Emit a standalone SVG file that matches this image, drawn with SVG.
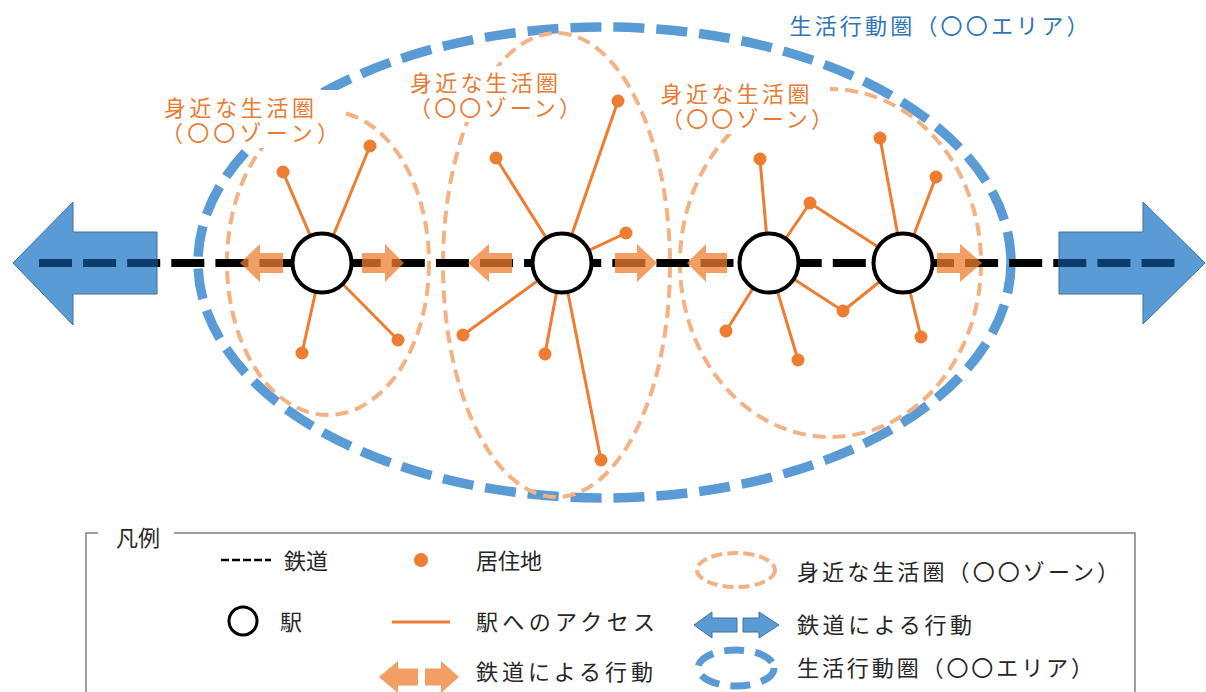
<svg xmlns="http://www.w3.org/2000/svg" width="1206" height="692" viewBox="0 0 1206 692">
<defs>
<style>
.zone{fill:none;stroke:#F4B183;stroke-width:4;stroke-dasharray:13 7}
.area{fill:none;stroke:#5B9BD5;stroke-width:9.5;stroke-dasharray:31 12}
.rail{fill:none;stroke:#000;stroke-width:8;stroke-dasharray:33 11.1}
.acc{stroke:#ED7D31;stroke-width:3;fill:none}
.dot{fill:#ED7D31}
.sta{fill:#fff;stroke:#000;stroke-width:4}
.oarr{fill:#ED7D31;fill-opacity:0.75}
.barr{fill:#5B9BD5;stroke:#41719C;stroke-width:1}
.lbl{font-family:"Noto Sans CJK JP","Noto Sans CJK SC",sans-serif;font-size:22px;fill:#E97B33;text-anchor:middle}
.ttl{font-family:"Noto Sans CJK JP","Noto Sans CJK SC",sans-serif;font-size:22px;fill:#2E75B6;text-anchor:middle}
.lg{font-family:"Noto Sans CJK JP","Noto Sans CJK SC",sans-serif;font-size:22px;fill:#262626}
</style>
<clipPath id="bclip">
<polygon points="13,263 73,202 73,232 157,232 157,294 73,294 73,325"/>
<polygon points="1059,232 1143,232 1143,202 1205,263 1143,324 1143,294 1059,294"/>
</clipPath>
</defs>
<rect width="1206" height="692" fill="#fff"/>

<g id="area-ellipse">
<ellipse class="area" cx="604.5" cy="262.5" rx="406.5" ry="235.5"/>
</g>
<g id="zones">
<ellipse id="zone-1" class="zone" cx="328" cy="263" rx="101" ry="152"/>
<ellipse id="zone-2" class="zone" cx="556.5" cy="265" rx="113.5" ry="232"/>
<ellipse id="zone-3" class="zone" cx="830.5" cy="263" rx="150.5" ry="174"/>
</g>

<g id="railway">
<line class="rail" x1="39" y1="263" x2="1176" y2="263"/>
</g>
<g id="rail-arrows">
<polygon class="barr" points="13,263 73,202 73,232 157,232 157,294 73,294 73,325"/>
<polygon class="barr" points="1059,232 1143,232 1143,202 1205,263 1143,324 1143,294 1059,294"/>
<line x1="39" y1="263" x2="1176" y2="263" clip-path="url(#bclip)" stroke="#0B3C6B" stroke-width="8" stroke-dasharray="33 11.1"/>
</g>

<g id="connectors">
<line class="acc" x1="283" y1="172" x2="322" y2="263"/>
<line class="acc" x1="370" y1="146" x2="322" y2="263"/>
<line class="acc" x1="302" y1="353" x2="322" y2="263"/>
<line class="acc" x1="398" y1="340" x2="322" y2="263"/>
<line class="acc" x1="618" y1="101" x2="562" y2="263"/>
<line class="acc" x1="496" y1="158" x2="562" y2="263"/>
<line class="acc" x1="626" y1="233" x2="562" y2="263"/>
<line class="acc" x1="463" y1="335" x2="562" y2="263"/>
<line class="acc" x1="545" y1="354" x2="562" y2="263"/>
<line class="acc" x1="601" y1="460" x2="562" y2="263"/>
<line class="acc" x1="760" y1="159" x2="769" y2="263"/>
<line class="acc" x1="810" y1="203" x2="769" y2="263"/>
<line class="acc" x1="810" y1="203" x2="903" y2="263"/>
<line class="acc" x1="726" y1="331" x2="769" y2="263"/>
<line class="acc" x1="798" y1="360" x2="769" y2="263"/>
<line class="acc" x1="843" y1="311" x2="769" y2="263"/>
<line class="acc" x1="843" y1="311" x2="903" y2="263"/>
<line class="acc" x1="880" y1="138" x2="903" y2="263"/>
<line class="acc" x1="936" y1="177" x2="903" y2="263"/>
<line class="acc" x1="921" y1="337" x2="903" y2="263"/>
</g>

<g id="train-trips">
<polygon class="oarr" points="240,263 260,244 260,253 283,253 283,273 260,273 260,282"/>
<polygon class="oarr" points="362,253 385,253 385,244 404,263 385,282 385,273 362,273"/>
<polygon class="oarr" points="468,263 489,244 489,253 512,253 512,273 489,273 489,282"/>
<polygon class="oarr" points="615,253 637,253 637,244 657,263 637,282 637,273 615,273"/>
<polygon class="oarr" points="687,263 706,244 706,253 727,253 727,273 706,273 706,282"/>
<polygon class="oarr" points="937,253 960,253 960,244 982,263 960,282 960,273 937,273"/>
</g>

<g id="station-1"><circle class="sta" cx="322" cy="263" r="29.5"/></g>
<g id="station-2"><circle class="sta" cx="562" cy="263" r="29.5"/></g>
<g id="station-3"><circle class="sta" cx="769" cy="263" r="29.5"/></g>
<g id="station-4"><circle class="sta" cx="903" cy="263" r="29.5"/></g>

<g id="residences">
<circle class="dot" cx="283" cy="172" r="6.5"/>
<circle class="dot" cx="370" cy="146" r="6.5"/>
<circle class="dot" cx="302" cy="353" r="6.5"/>
<circle class="dot" cx="398" cy="340" r="6.5"/>
<circle class="dot" cx="618" cy="101" r="6.5"/>
<circle class="dot" cx="496" cy="158" r="6.5"/>
<circle class="dot" cx="626" cy="233" r="6.5"/>
<circle class="dot" cx="463" cy="335" r="6.5"/>
<circle class="dot" cx="545" cy="354" r="6.5"/>
<circle class="dot" cx="601" cy="460" r="6.5"/>
<circle class="dot" cx="760" cy="159" r="6.5"/>
<circle class="dot" cx="810" cy="203" r="6.5"/>
<circle class="dot" cx="880" cy="138" r="6.5"/>
<circle class="dot" cx="936" cy="177" r="6.5"/>
<circle class="dot" cx="726" cy="331" r="6.5"/>
<circle class="dot" cx="798" cy="360" r="6.5"/>
<circle class="dot" cx="843" cy="311" r="6.5"/>
<circle class="dot" cx="921" cy="337" r="6.5"/>
</g>

<g id="label-zone-1">
<rect x="160" y="90" width="180" height="58" fill="#fff"/>
<text class="lbl"><tspan x="239" y="116" textLength="150">身近な生活圏</tspan><tspan x="250" y="141" textLength="178">（〇〇ゾーン）</tspan></text>
</g>
<g id="label-zone-2">
<rect x="403" y="66" width="175" height="56" fill="#fff"/>
<text class="lbl"><tspan x="484" y="91" textLength="148">身近な生活圏</tspan><tspan x="495" y="116" textLength="172">（〇〇ゾーン）</tspan></text>
</g>
<g id="label-zone-3">
<rect x="655" y="78" width="175" height="56" fill="#fff"/>
<text class="lbl"><tspan x="735" y="102" textLength="149">身近な生活圏</tspan><tspan x="747" y="127" textLength="172">（〇〇ゾーン）</tspan></text>
</g>
<g id="label-area">
<text class="ttl" x="939" y="34" textLength="299">生活行動圏（〇〇エリア）</text>
</g>

<g id="legend">
<path d="M86 700 V533 H98 M174 533 H1135 V700" fill="none" stroke="#7F7F7F" stroke-width="1.5"/>
<text class="lg" x="116" y="546">凡例</text>
<line x1="221" y1="560" x2="271" y2="560" stroke="#000" stroke-width="2.5" stroke-dasharray="8 3"/>
<text class="lg" x="284" y="569">鉄道</text>
<circle class="dot" cx="421" cy="560" r="7"/>
<text class="lg" x="476" y="569">居住地</text>
<circle cx="243" cy="621" r="14" fill="#fff" stroke="#000" stroke-width="3"/>
<text class="lg" x="280" y="630">駅</text>
<line x1="392" y1="622" x2="450" y2="622" stroke="#ED7D31" stroke-width="3"/>
<text class="lg" x="476" y="630" textLength="179">駅へのアクセス</text>
<polygon class="oarr" points="379,677 398,661 398,668.5 418,668.5 418,685.5 398,685.5 398,693"/>
<polygon class="oarr" points="425,668.5 441,668.5 441,661 459,677 441,693 441,685.5 425,685.5"/>
<text class="lg" x="476" y="680" textLength="177">鉄道による行動</text>
<ellipse cx="736" cy="570" rx="39" ry="17" fill="none" stroke="#F4B183" stroke-width="4" stroke-dasharray="11 5"/>
<text class="lg" x="797" y="580" textLength="322">身近な生活圏（〇〇ゾーン）</text>
<polygon class="barr" points="694,625 712,612 712,618 737,618 737,632 712,632 712,638"/>
<polygon class="barr" points="743,618 759,618 759,612 779,625 759,638 759,632 743,632"/>
<text class="lg" x="797" y="633" textLength="175">鉄道による行動</text>
<ellipse cx="736" cy="668" rx="38" ry="18" fill="none" stroke="#5B9BD5" stroke-width="7" stroke-dasharray="20 11"/>
<text class="lg" x="797" y="676" textLength="296">生活行動圏（〇〇エリア）</text>
</g>
</svg>
